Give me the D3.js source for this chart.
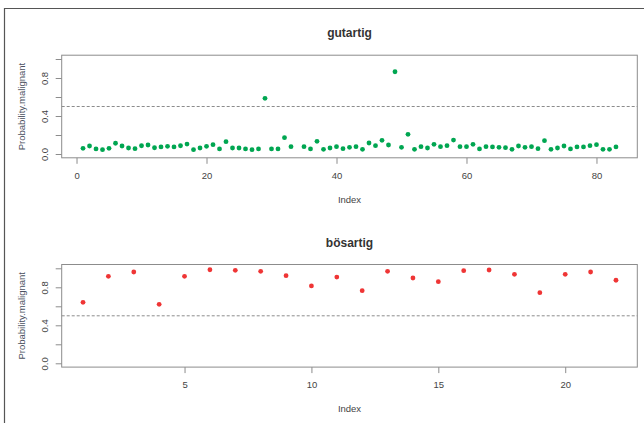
<!DOCTYPE html>
<html>
<head>
<meta charset="utf-8">
<script src="https://cdn.jsdelivr.net/npm/d3@7"></script>
<style>
  body { margin: 0; background: #fff; }
  text { font-family: "Liberation Sans", Arial, sans-serif; }
</style>
</head>
<body>
<script>
// data
var titles = ["gutartig", "bösartig"];
var yTitle = "Probability.malignant";
var xTitle = "Index";

// benign cases, index 34 not drawn (NA)
var probBenign = [
    0.060, 0.084, 0.053, 0.046, 0.060, 0.113, 0.084, 0.063, 0.056, 0.087,
    0.095, 0.066, 0.074, 0.081, 0.074, 0.087, 0.105, 0.046, 0.063, 0.081,
    0.098, 0.053, 0.130, 0.063, 0.063, 0.053, 0.046, 0.053, 0.586, 0.053,
    0.053, 0.172, 0.077, null, 0.077, 0.053, 0.133, 0.049, 0.063, 0.077,
    0.056, 0.070, 0.077, 0.049, 0.116, 0.088, 0.144, 0.095, 0.866, 0.070,
    0.207, 0.049, 0.077, 0.063, 0.102, 0.077, 0.088, 0.147, 0.077, 0.077,
    0.102, 0.053, 0.077, 0.074, 0.070, 0.067, 0.049, 0.084, 0.070, 0.077,
    0.056, 0.140, 0.049, 0.063, 0.084, 0.053, 0.074, 0.074, 0.088, 0.098,
    0.049, 0.049, 0.074
];
var probMalignant = [
    0.642, 0.916, 0.961, 0.621, 0.916, 0.985, 0.979, 0.968, 0.922, 0.814,
    0.908, 0.764, 0.968, 0.898, 0.859, 0.975, 0.982, 0.937, 0.743, 0.937,
    0.961, 0.874
];
var yTicks = [0, 0.2, 0.4, 0.6, 0.8, 1];
var yLabels = [0, 0.4, 0.8];
var xTicksTop = [0, 20, 40, 60, 80];
var xTicksBottom = [5, 10, 15, 20];
var cutoff = 0.5;

var W = 644, H = 423;
var svg = d3.select("body").append("svg").attr("width", W).attr("height", H);

// outer frame (screenshot border)
svg.append("path").attr("d", "M4.5," + H + "V8.5H" + W)
    .attr("fill", "none").attr("stroke", "#555").attr("stroke-width", 1.2);

function panel(values, color, title, xTicks, top) {
    var n = values.length;
    var left = 61.7, right = 637.3, bottom = top + 102.6;
    var g = svg.append("g");

    var x = d3.scaleLinear()
        .domain([1 - 0.04 * (n - 1), n + 0.04 * (n - 1)])
        .range([left, right]);
    var y = d3.scaleLinear().domain([-0.04, 1.04]).range([bottom, top]);

    // x axis
    var xa = g.append("g").attr("transform", "translate(0," + bottom + ")")
        .call(d3.axisBottom(x).tickValues(xTicks).tickSize(6).tickPadding(8).tickSizeOuter(0));
    // y axis
    var ya = g.append("g").attr("transform", "translate(" + left + ",0)")
        .call(d3.axisLeft(y).tickValues(yTicks).tickSize(6).tickSizeOuter(0)
            .tickFormat(function (d) { return yLabels.indexOf(d) >= 0 ? d.toFixed(1) : ""; }));
    ya.selectAll("text")
        .attr("x", 0).attr("y", 0).attr("dy", 0)
        .attr("text-anchor", "middle")
        .attr("transform", "translate(-14,0) rotate(-90)");

    [xa, ya].forEach(function (a) {
        a.select(".domain").remove();
        a.selectAll("line").attr("stroke", "#8c8c8c");
        a.selectAll("text").attr("fill", "#444").style("font-size", "9.5px");
    });

    // box
    g.append("rect").attr("x", left).attr("y", top)
        .attr("width", right - left).attr("height", bottom - top)
        .attr("fill", "none").attr("stroke", "#8c8c8c");

    // cutoff line
    g.append("line")
        .attr("x1", left).attr("x2", right)
        .attr("y1", y(cutoff)).attr("y2", y(cutoff))
        .attr("stroke", "#8c8c8c").attr("stroke-dasharray", "3,2");

    // points
    var pts = values.map(function (v, i) { return [i + 1, v]; })
        .filter(function (d) { return d[1] !== null; });
    g.selectAll("circle").data(pts).enter().append("circle")
        .attr("cx", function (d) { return x(d[0]); })
        .attr("cy", function (d) { return y(d[1]); })
        .attr("r", 2.4)
        .attr("fill", color);

    // titles
    g.append("text").attr("x", (left + right) / 2).attr("y", top - 18)
        .attr("text-anchor", "middle").attr("fill", "#333")
        .style("font-size", "12px").style("font-weight", "bold")
        .text(title);
    g.append("text").attr("x", (left + right) / 2).attr("y", bottom + 45)
        .attr("text-anchor", "middle").attr("fill", "#444")
        .style("font-size", "9.5px").text(xTitle);
    g.append("text")
        .attr("transform", "translate(" + (left - 37) + "," + ((top + bottom) / 2) + ") rotate(-90)")
        .attr("text-anchor", "middle").attr("fill", "#4a5060")
        .style("font-size", "9.5px").text(yTitle);
}

panel(probBenign, "#00a651", titles[0], xTicksTop, 55.2);
panel(probMalignant, "#ef3535", titles[1], xTicksBottom, 264.5);
</script>
</body>
</html>
